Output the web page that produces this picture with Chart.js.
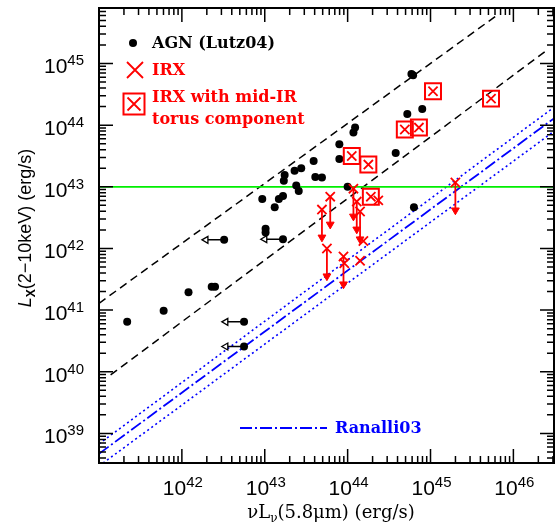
<!DOCTYPE html>
<html>
<head>
<meta charset="utf-8">
<script src="https://cdn.jsdelivr.net/npm/chart.js@4.4.0/dist/chart.umd.min.js"></script>
<style>
  html, body { margin: 0; padding: 0; background: #fff; }
</style>
</head>
<body>
<canvas id="chart" width="555" height="525"></canvas>
<script>
// all values are log10 (erg/s)
const xTickExps = [42, 43, 44, 45, 46];
const yTickExps = [39, 40, 41, 42, 43, 44, 45];

const agnLogL6 = [44.09, 44.07, 43.90, 43.90, 43.59, 43.61, 43.69, 43.44, 43.36, 43.24, 43.23,
                  43.38, 43.41, 44.00, 43.22, 43.17, 42.97, 43.12, 43.01, 43.01, 44.77, 44.79,
                  44.72, 44.90, 44.58, 44.80, 41.34, 41.78, 42.08, 42.36, 42.40];
const agnLogLx = [43.96, 43.88, 43.69, 43.45, 43.42, 43.16, 43.15, 43.30, 43.26, 43.19, 43.10,
                  43.02, 42.93, 43.00, 42.85, 42.80, 42.80, 42.67, 42.32, 42.26, 44.83, 44.81,
                  44.18, 44.26, 43.55, 42.67, 40.81, 40.99, 41.29, 41.38, 41.38];

// AGN with upper limits on the 5.8um luminosity
const agnLimLogL6 = [43.22, 42.51, 42.75, 42.75];
const agnLimLogLx = [42.15, 42.14, 40.81, 40.41];

// IRX with upper limits on Lx
const irxLimLogL6 = [43.79, 43.69, 44.07, 44.11, 44.15, 43.75, 43.95, 45.30];
const irxLimLogLx = [42.84, 42.63, 42.97, 42.76, 42.60, 42.00, 41.87, 43.07];
// IRX detections
const irxLogL6 = [44.37, 44.19, 44.15, 43.96];
const irxLogLx = [42.78, 42.12, 41.80, 41.76];
// IRX with mid-IR torus component
const torusLogL6 = [45.03, 45.73, 44.69, 44.86, 44.05, 44.25, 44.28];
const torusLogLx = [44.55, 44.43, 43.93, 43.96, 43.50, 43.36, 42.84];

// reference lines (end points)
const dashHiLogL6 = [41.00, 45.79];
const dashHiLogLx = [41.11, 45.77];
const dashLoLogL6 = [41.14, 46.41];
const dashLoLogLx = [39.95, 45.22];
const ranalliLogL6 = [41.00, 46.49];
const ranalliLogLx = [38.67, 44.11];
const ranalliHiLogLx = [38.83, 44.29];
const ranalliLoLogLx = [38.47, 43.90];
const lxCutLog = 43;

const P = v => Math.pow(10, v);
const pts = (lx, ly) => lx.map((v, i) => ({ x: P(v), y: P(ly[i]) }));
const RED = "#ff0000", BLUE = "#0000ff";

function segs(lx, ly, dx, dy) {
  const out = [];
  lx.forEach((v, i) => {
    out.push({ x: P(v), y: P(ly[i]) });
    out.push({ x: P(v + dx), y: P(ly[i] + dy) });
    out.push({ x: P(v), y: null });
  });
  return out;
}
const ends = (lx, ly, dx, dy) => lx.map((v, i) => ({ x: P(v + dx), y: P(ly[i] + dy) }));

const lineDs = (data, color, dash, width) => ({
  data, showLine: true, borderColor: color, borderWidth: width || 1.5,
  borderDash: dash || [], pointRadius: 0, fill: false, order: 10
});

function drawRich(ctx, parts, x, y, align) {
  let w = 0;
  parts.forEach(p => { ctx.font = p[1]; w += ctx.measureText(p[0]).width; });
  let cx = align === "center" ? x - w / 2 : align === "right" ? x - w : x;
  ctx.textAlign = "left";
  ctx.textBaseline = "alphabetic";
  parts.forEach(p => {
    ctx.font = p[1];
    ctx.fillText(p[0], cx, y + (p[2] || 0));
    cx += ctx.measureText(p[0]).width;
  });
}

const baseFont = "21px 'Liberation Sans'";
const expFont = "15px 'Liberation Sans'";

const axesPlugin = {
  id: "axesFrame",
  afterDraw(chart) {
    const { ctx, chartArea: a, scales: { x, y } } = chart;
    ctx.save();
    ctx.strokeStyle = "#000";
    ctx.lineWidth = 1.5;
    ctx.beginPath();
    for (let d = 40; d <= 46; d++) {
      for (let m = 1; m <= 9; m++) {
        const v = m * P(d);
        if (v < x.min || v > x.max) continue;
        const px = x.getPixelForValue(v), len = m === 1 ? 14 : 7;
        ctx.moveTo(px, a.bottom); ctx.lineTo(px, a.bottom - len);
        ctx.moveTo(px, a.top); ctx.lineTo(px, a.top + len);
      }
    }
    for (let d = 38; d <= 45; d++) {
      for (let m = 1; m <= 9; m++) {
        const v = m * P(d);
        if (v < y.min || v > y.max) continue;
        const py = y.getPixelForValue(v), len = m === 1 ? 14 : 7;
        ctx.moveTo(a.left, py); ctx.lineTo(a.left + len, py);
        ctx.moveTo(a.right, py); ctx.lineTo(a.right - len, py);
      }
    }
    ctx.stroke();
    ctx.lineWidth = 2;
    ctx.strokeRect(a.left, a.top, a.right - a.left, a.bottom - a.top);

    ctx.fillStyle = "#000";
    xTickExps.forEach(e => {
      const px = x.getPixelForValue(P(e));
      drawRich(ctx, [["10", baseFont], [String(e), expFont, -8]], px + 1, 495, "center");
    });
    yTickExps.forEach(e => {
      const py = y.getPixelForValue(P(e));
      drawRich(ctx, [["10", baseFont], [String(e), expFont, -8]], 84, py + 10, "right");
    });

    // axis titles
    const ser = "18px 'DejaVu Serif'";
    drawRich(ctx, [["\u03bdL", ser], ["\u03bd", "12px 'DejaVu Serif'", 4], ["(5.8\u03bcm) (erg/s)", ser]],
      331, 518, "center");
    ctx.save();
    ctx.translate(31, 228);
    ctx.rotate(-Math.PI / 2);
    drawRich(ctx, [["L", "italic 18px 'Liberation Sans'"], ["X", "bold 12px 'Liberation Sans'", 4],
      ["(2\u221210keV) (erg/s)", "18px 'Liberation Sans'"]], 0, 0, "center");
    ctx.restore();

    // legend
    const lf = "bold 16px 'DejaVu Serif'";
    ctx.font = lf;
    ctx.textBaseline = "middle";
    ctx.textAlign = "left";
    ctx.fillStyle = "#000";
    ctx.beginPath(); ctx.arc(133, 43, 4, 0, 2 * Math.PI); ctx.fill();
    ctx.fillText("AGN (Lutz04)", 152, 44);
    ctx.fillStyle = RED; ctx.strokeStyle = RED; ctx.lineWidth = 1.8;
    const cross = (cx, cy, h) => {
      ctx.beginPath();
      ctx.moveTo(cx - h, cy - h); ctx.lineTo(cx + h, cy + h);
      ctx.moveTo(cx + h, cy - h); ctx.lineTo(cx - h, cy + h);
      ctx.stroke();
    };
    cross(135, 70, 8);
    ctx.fillText("IRX", 152, 71);
    cross(134, 104, 6.5);
    ctx.lineWidth = 2;
    ctx.strokeRect(123.5, 93.5, 21, 21);
    ctx.fillText("IRX with mid-IR", 152, 98);
    ctx.fillText("torus component", 152, 120);

    ctx.strokeStyle = BLUE; ctx.fillStyle = BLUE; ctx.lineWidth = 1.8;
    ctx.setLineDash([12, 3, 2, 3]);
    ctx.beginPath(); ctx.moveTo(240, 428); ctx.lineTo(327, 428); ctx.stroke();
    ctx.setLineDash([]);
    ctx.fillText("Ranalli03", 335, 429);
    ctx.restore();
  }
};

const downDx = 0, downDy = -0.45, leftDx = -0.22;

new Chart(document.getElementById("chart"), {
  type: "scatter",
  data: {
    datasets: [
      lineDs([{ x: P(41), y: P(lxCutLog) }, { x: P(46.6), y: P(lxCutLog) }], "#00ee00", [], 1.8),
      lineDs(pts(dashHiLogL6, dashHiLogLx), "#000", [8, 5]),
      lineDs(pts(dashLoLogL6, dashLoLogLx), "#000", [8, 5]),
      lineDs(pts(ranalliLogL6, ranalliLogLx), BLUE, [12, 3, 2, 3], 1.8),
      lineDs(pts(ranalliLogL6, ranalliHiLogLx), BLUE, [2, 3], 1.6),
      lineDs(pts(ranalliLogL6, ranalliLoLogLx), BLUE, [2, 3], 1.6),
      Object.assign(lineDs(segs(irxLimLogL6, irxLimLogLx, downDx, downDy), RED, [], 1.8), { order: 5, spanGaps: false }),
      Object.assign(lineDs(segs(agnLimLogL6, agnLimLogLx, leftDx, 0), "#000", [], 1.5), { order: 5, spanGaps: false }),
      { data: ends(irxLimLogL6, irxLimLogLx, downDx, downDy), pointStyle: "triangle", rotation: 180,
        pointRadius: 4.5, backgroundColor: RED, borderColor: RED, borderWidth: 1, order: 4 },
      { data: ends(agnLimLogL6, agnLimLogLx, leftDx, 0), pointStyle: "triangle", rotation: -90,
        pointRadius: 4, backgroundColor: "#fff", borderColor: "#000", borderWidth: 1.3, order: 4 },
      { data: pts(agnLogL6, agnLogLx).concat(pts(agnLimLogL6, agnLimLogLx)), pointStyle: "circle",
        pointRadius: 4, backgroundColor: "#000", borderColor: "#000", borderWidth: 0, order: 2 },
      { data: pts(irxLimLogL6, irxLimLogLx).concat(pts(irxLogL6, irxLogLx), pts(torusLogL6, torusLogLx)),
        pointStyle: "crossRot", pointRadius: 6.5, borderColor: RED, borderWidth: 1.8, order: 1 },
      { data: pts(torusLogL6, torusLogLx), pointStyle: "rect", pointRadius: 11.3,
        backgroundColor: "rgba(0,0,0,0)", borderColor: RED, borderWidth: 2, order: 1 }
    ]
  },
  options: {
    responsive: false,
    animation: false,
    devicePixelRatio: 1,
    layout: { autoPadding: false, padding: { left: 99, right: 1, top: 8, bottom: 62 } },
    plugins: { legend: { display: false }, tooltip: { enabled: false } },
    events: [],
    scales: {
      x: { type: "logarithmic", min: P(41), max: P(46.49), display: false },
      y: { type: "logarithmic", min: P(38.52), max: P(45.9), display: false }
    }
  },
  plugins: [axesPlugin]
});
</script>
</body>
</html>
